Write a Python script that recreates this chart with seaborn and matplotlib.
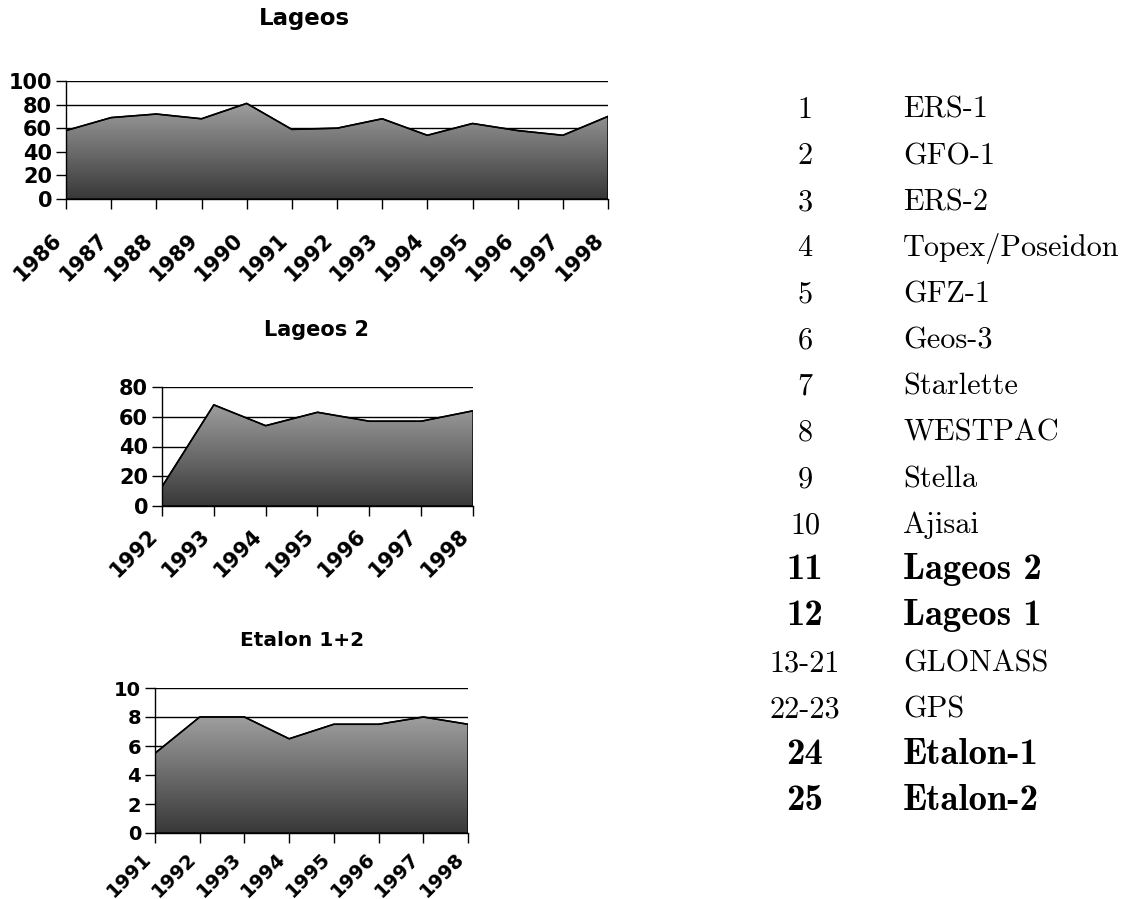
"""Laser ranging pass counts per year, with the satellite index table."""

import numpy as np
import matplotlib
matplotlib.use("Agg")
import matplotlib.pyplot as plt
import matplotlib.transforms as mtransforms
from matplotlib.colors import LinearSegmentedColormap
import seaborn as sns

# data
lageos_years = list(range(1986, 1999))
lageos_values = [58, 69, 72, 68, 81, 59, 60, 68, 54, 64, 58, 54, 70]

lageos2_years = list(range(1992, 1999))
lageos2_values = [13, 68, 54, 63, 57, 57, 64]

etalon_years = list(range(1991, 1999))
etalon_values = [5.5, 8, 8, 6.5, 7.5, 7.5, 8, 7.5]

sat_numbers = ["1", "2", "3", "4", "5", "6", "7", "8", "9", "10",
               "11", "12", "13-21", "22-23", "24", "25"]
sat_names = ["ERS-1", "GFO-1", "ERS-2", "Topex/Poseidon", "GFZ-1", "Geos-3",
             "Starlette", "WESTPAC", "Stella", "Ajisai", "Lageos 2", "Lageos 1",
             "GLONASS", "GPS", "Etalon-1", "Etalon-2"]
sat_highlight = [False] * 10 + [True, True, False, False, True, True]

sns.set_theme(style="white")
plt.rcParams["font.family"] = ["DejaVu Sans"]
plt.rcParams["text.color"] = "black"
plt.rcParams["xtick.color"] = "black"
plt.rcParams["ytick.color"] = "black"

GREY_AREA = LinearSegmentedColormap.from_list("grey_area", ["#383838", "#9e9e9e"])
W, H = 1126, 899


def area_panel(fig, rect, years, values, ymax, ystep, tick_size, xpad):
    """Excel-style area chart with a vertical grey gradient."""
    ax = fig.add_axes(rect)
    ax.set_axisbelow(True)
    ax.yaxis.grid(True, color="black", linewidth=1)
    ax.xaxis.grid(False)

    outline = ax.fill_between(years, values, 0, facecolor="none",
                              edgecolor="black", linewidth=1, zorder=2)
    grad = np.linspace(0, 1, 256).reshape(-1, 1)
    im = ax.imshow(grad, cmap=GREY_AREA, origin="lower", aspect="auto",
                   extent=[years[0], years[-1], 0, max(values)], zorder=1.5)
    im.set_clip_path(outline.get_paths()[0], ax.transData)
    sns.lineplot(x=years, y=values, color="black", linewidth=1.2, ax=ax, zorder=3)

    ax.set_xlim(years[0], years[-1])
    ax.set_ylim(0, ymax)
    yt = np.arange(0, ymax + ystep / 2, ystep)
    ax.set_yticks(yt, labels=[f"{v:g}" for v in yt], fontweight="bold",
                  fontsize=tick_size, color="black")
    ax.set_xticks(years, labels=[str(y) for y in years], rotation=45, ha="right",
                  fontweight="bold", fontsize=tick_size, color="black")
    shift = mtransforms.ScaledTranslation(-0.08, 0, fig.dpi_scale_trans)
    for lbl in ax.get_xticklabels():
        lbl.set_transform(lbl.get_transform() + shift)

    ax.spines[["top", "right"]].set_visible(False)
    for side in ["left", "bottom"]:
        ax.spines[side].set_color("black")
        ax.spines[side].set_linewidth(1)
    ax.tick_params(axis="y", left=True, direction="out", length=7, width=1,
                   color="black", pad=3)
    ax.tick_params(axis="x", bottom=True, direction="out", length=7, width=1,
                   color="black", pad=xpad)
    ax.set_xlabel("")
    ax.set_ylabel("")
    return ax


fig = plt.figure(figsize=(W / 100, H / 100), dpi=100)

area_panel(fig, [66 / W, 1 - 199 / H, 542 / W, 118 / H],
           lageos_years, lageos_values, 100, 20, 15, 15)
area_panel(fig, [162 / W, 1 - 506 / H, 311 / W, 119 / H],
           lageos2_years, lageos2_values, 80, 20, 15, 7)
area_panel(fig, [155 / W, 1 - 833 / H, 313 / W, 145 / H],
           etalon_years, etalon_values, 10, 2, 14, 4.5)

fig.text(304 / W, 1 - 18 / H, "Lageos", ha="center", va="center",
         fontweight="bold", fontsize=16.5)
fig.text(316 / W, 1 - 330 / H, "Lageos 2", ha="center", va="center",
         fontweight="bold", fontsize=15)
fig.text(302 / W, 1 - 640 / H, "Etalon 1+2", ha="center", va="center",
         fontweight="bold", fontsize=14.5)

# satellite index table
for i, (num, name, hl) in enumerate(zip(sat_numbers, sat_names, sat_highlight)):
    y = 1 - (118 + i * 46.13) / H
    family = "cmb10" if hl else "cmr10"
    size = 26.5 if hl else 21.8
    fig.text(805 / W, y, num, ha="center", va="baseline", family=family,
             fontsize=size, color="black")
    fig.text(903 / W, y, name, ha="left", va="baseline", family=family,
             fontsize=size, color="black")

fig.savefig("out.png", dpi=100, facecolor="white")
